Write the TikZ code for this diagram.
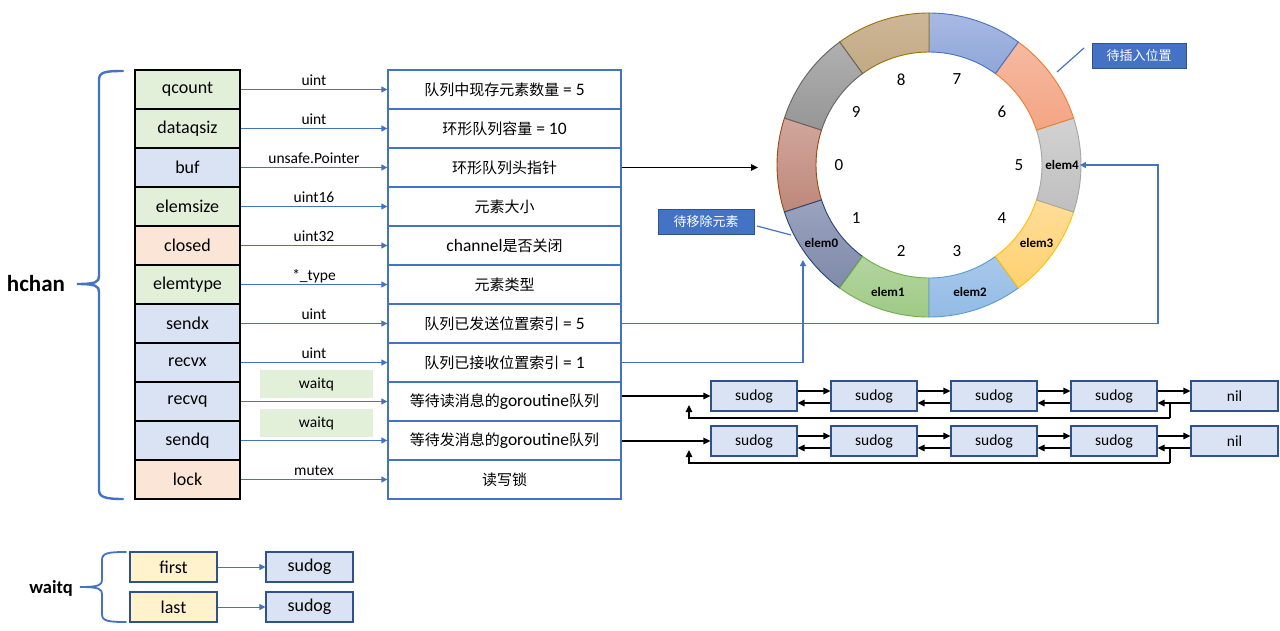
\documentclass[tikz,border=0pt]{standalone}
\usepackage{fontspec}
\setmainfont{Carlito}
\newfontfamily\cjk{Noto Sans CJK SC}
\usetikzlibrary{arrows.meta,calc}
\definecolor{oblue}{HTML}{4472C4}
\definecolor{dblue}{HTML}{2F528F}
\definecolor{gfill}{HTML}{E2F0D9}
\definecolor{bfill}{HTML}{DAE3F3}
\definecolor{ofill}{HTML}{FBE5D6}
\definecolor{yfill}{HTML}{FFF2CC}
\definecolor{s0t}{HTML}{D1A69C}\definecolor{s0b}{HTML}{BE887A}\definecolor{s0d}{HTML}{9E480E}
\definecolor{s1t}{HTML}{9AA3BE}\definecolor{s1b}{HTML}{7F8AAA}\definecolor{s1d}{HTML}{264478}
\definecolor{s2t}{HTML}{B3D5A0}\definecolor{s2b}{HTML}{9FCA86}\definecolor{s2d}{HTML}{70AD47}
\definecolor{s3t}{HTML}{A8C8EA}\definecolor{s3b}{HTML}{92BBE5}\definecolor{s3d}{HTML}{5B9BD5}
\definecolor{s4t}{HTML}{FFDD99}\definecolor{s4b}{HTML}{FFD170}\definecolor{s4d}{HTML}{FFC000}
\definecolor{s5t}{HTML}{D2D2D2}\definecolor{s5b}{HTML}{BFBFBF}\definecolor{s5d}{HTML}{A5A5A5}
\definecolor{s6t}{HTML}{F6B9A2}\definecolor{s6b}{HTML}{F3A583}\definecolor{s6d}{HTML}{ED7D31}
\definecolor{s7t}{HTML}{A9B9E3}\definecolor{s7b}{HTML}{8EA6D8}\definecolor{s7d}{HTML}{4472C4}
\definecolor{s8t}{HTML}{CDB797}\definecolor{s8b}{HTML}{C3A985}\definecolor{s8d}{HTML}{997300}
\definecolor{s9t}{HTML}{B0B0B0}\definecolor{s9b}{HTML}{969696}\definecolor{s9d}{HTML}{636363}

\newcommand\zh[1]{{\cjk\fontsize{15}{17}\selectfont #1}}
\newcommand\hrow[5]{%
  \node[lcell, fill=#3] (l#1) at (187.5, {89.5+39*(#1-1)}) {#2};
  \node[rcell] (r#1) at (504.5, {89.5+39*(#1-1)}) {#5};
  \draw[barrow] (l#1) -- (r#1) node[midway, lab] {#4};
}

\begin{document}
\begin{tikzpicture}[x=1pt,y=-1pt,
  lcell/.style={draw=black, line width=1.3pt, minimum width=105pt, minimum height=39pt, inner sep=0pt, font=\fontsize{18}{20}\selectfont},
  rcell/.style={draw=oblue, line width=1.3pt, minimum width=233pt, minimum height=39pt, inner sep=0pt, font=\fontsize{17.5}{19}\selectfont},
  barrow/.style={draw=oblue, line width=1.3pt, -{Triangle[length=6pt,width=6pt]}},
  thinarrow/.style={draw=oblue, line width=0.9pt, -{Triangle[length=6pt,width=6pt]}},
  karrow/.style={draw=black, line width=1.3pt, -{Triangle[length=7pt,width=6.5pt]}},
  lab/.style={above, inner sep=3pt, text depth=0pt, font=\fontsize{15.5}{17}\selectfont},
  wbox/.style={fill=gfill, minimum width=113pt, minimum height=28pt, inner sep=0pt, font=\fontsize{15.5}{17}\selectfont},
  sud/.style={draw=dblue, fill=bfill, line width=1.2pt, minimum width=86pt, minimum height=30pt, inner sep=0pt, font=\fontsize{15.5}{17}\selectfont},
  fbox/.style={draw=dblue, fill=yfill, line width=1.2pt, minimum width=87pt, minimum height=30pt, inner sep=0pt, font=\fontsize{18}{20}\selectfont},
  bsud/.style={draw=dblue, fill=bfill, line width=1.2pt, minimum width=87pt, minimum height=30pt, inner sep=0pt, font=\fontsize{18}{20}\selectfont},
  callout/.style={draw=dblue, fill=oblue, line width=1pt, text=white, minimum height=25pt, inner sep=0pt, font=\cjk\fontsize{13}{15}\selectfont},
  idx/.style={font=\fontsize{17}{19}\selectfont, inner sep=1pt},
  elab/.style={font=\bfseries\fontsize{13}{15}\selectfont, inner sep=1pt},
  brace/.style={draw=oblue, line width=2.4pt, line cap=round}
]
\fill[white] (0,0) rectangle (1280,630);
\useasboundingbox (0,0) rectangle (1280,630);

% ---- ring buffer ----
\begin{scope}[shift={(929,165)}]
\foreach \k in {0,...,9}{
  \pgfmathsetmacro\aa{-(162+36*\k)}
  \pgfmathsetmacro\ab{-(198+36*\k)}
  \shadedraw[top color=s\k t, bottom color=s\k b, draw=s\k d, line width=0.9pt]
    (\aa:152) arc[start angle=\aa, end angle=\ab, radius=152]
    -- (\ab:113) arc[start angle=\ab, end angle=\aa, radius=113] -- cycle;
  \node[idx] (n\k) at ({-(180+36*\k)}:90) {\k};
}
\node[elab] (e0) at (-216:133) {elem0};
\node[elab] (e1) at (-252:133) {elem1};
\node[elab] (e2) at (-288:133) {elem2};
\node[elab] (e3) at (-324:133) {elem3};
\node[elab] (e4) at (0:133) {elem4};
\end{scope}

% ---- hchan table ----
\hrow{1}{qcount}{gfill}{uint}{\zh{队列中现存元素数量} = 5}
\hrow{2}{dataqsiz}{gfill}{uint}{\zh{环形队列容量} = 10}
\hrow{3}{buf}{bfill}{unsafe.Pointer}{\zh{环形队列头指针}}
\hrow{4}{elemsize}{gfill}{uint16}{\zh{元素大小}}
\hrow{5}{closed}{ofill}{uint32}{channel\zh{是否关闭}}
\hrow{6}{elemtype}{gfill}{*\_type}{\zh{元素类型}}
\hrow{7}{sendx}{bfill}{uint}{\zh{队列已发送位置索引} = 5}
\hrow{8}{recvx}{bfill}{uint}{\zh{队列已接收位置索引} = 1}
\hrow{9}{recvq}{bfill}{}{\zh{等待读消息的}goroutine\zh{队列}}
\hrow{10}{sendq}{bfill}{}{\zh{等待发消息的}goroutine\zh{队列}}
\hrow{11}{lock}{ofill}{mutex}{\zh{读写锁}}
\node[wbox] (w1) at (316.5,384) {waitq};
\node[wbox] (w2) at (316.5,423) {waitq};

% brace hchan
\draw[brace] (123,71) .. controls (105,71) and (99,72) .. (99,80) -- (99,276)
  .. controls (99,282) and (96,284) .. (77,284)
  .. controls (96,284) and (99,286) .. (99,292) -- (99,490)
  .. controls (99,497) and (105,499) .. (123,499);
\node[font=\bfseries\fontsize{23}{25}\selectfont, inner sep=0pt] (hchan) at (36,284) {hchan};

% ---- callouts ----
\node[callout, minimum width=94pt] (ins) at (1139,56) {待插入位置};
\coordinate (insa) at (1084,48);
\coordinate (insb) at (1057,72);
\draw[oblue, line width=1.2pt] (insa) -- (insb);
\node[callout, minimum width=96pt] (rm) at (706,221.5) {待移除元素};
\coordinate (rma) at (757,226);
\coordinate (rmb) at (791,235);
\draw[oblue, line width=1.2pt] (rma) -- (rmb);

% buf pointer
\coordinate (bufend) at (758,167.5);
\draw[karrow] (r3.east) -- (bufend);

% sendx / recvx
\coordinate (sx) at (1158,165);
\draw[barrow] (r7.east) -| (sx) -- (e4.east);
\coordinate (rx) at (803,260);
\draw[barrow] (r8.east) -| (rx);

% ---- sudog lists ----
\foreach \r/\y in {1/396,2/441}{
  \node[sud] (s\r1) at (754,\y) {sudog};
  \node[sud] (s\r2) at (874,\y) {sudog};
  \node[sud] (s\r3) at (994,\y) {sudog};
  \node[sud] (s\r4) at (1114,\y) {sudog};
  \node[sud, minimum width=87pt] (s\r5) at (1234.5,\y) {nil};
  \foreach \a/\b in {1/2,2/3,3/4,4/5}{
    \draw[karrow] ([yshift=5pt]s\r\a.east) -- ([yshift=5pt]s\r\b.west);
    \draw[karrow] ([yshift=-7pt]s\r\b.west) -- ([yshift=-7pt]s\r\a.east);
  }
  \coordinate (q\r a) at (1170,\y+7);
  \coordinate (q\r b) at (1170,\y+22);
  \coordinate (q\r c) at (689,\y+22);
  \coordinate (q\r d) at (689,\y+9);
  \draw[line width=1.3pt] (q\r a) -- (q\r b);
  \draw[karrow] (q\r b) -- (q\r c) -- (q\r d);
}
\draw[karrow] (r9.east |- s11.west) -- (s11.west);
\draw[karrow] (r10.east |- s21.west) -- (s21.west);

% ---- waitq detail ----
\node[fbox] (first) at (173.5,567) {first};
\node[fbox] (last) at (173.5,607) {last};
\node[bsud] (fs) at (309.5,567) {sudog};
\node[bsud] (ls) at (309.5,607) {sudog};
\draw[thinarrow] (first) -- (fs);
\draw[thinarrow] (last) -- (ls);
\draw[brace, line width=1.8pt] (126,552) .. controls (108,552) and (102,553) .. (102,560) -- (102,580)
  .. controls (102,585) and (99,587) .. (80,587)
  .. controls (99,587) and (102,589) .. (102,594) -- (102,614)
  .. controls (102,621) and (108,622) .. (126,622);
\node[font=\bfseries\fontsize{18.5}{20}\selectfont, inner sep=0pt] (wq) at (51,588) {waitq};
\end{tikzpicture}
\end{document}
